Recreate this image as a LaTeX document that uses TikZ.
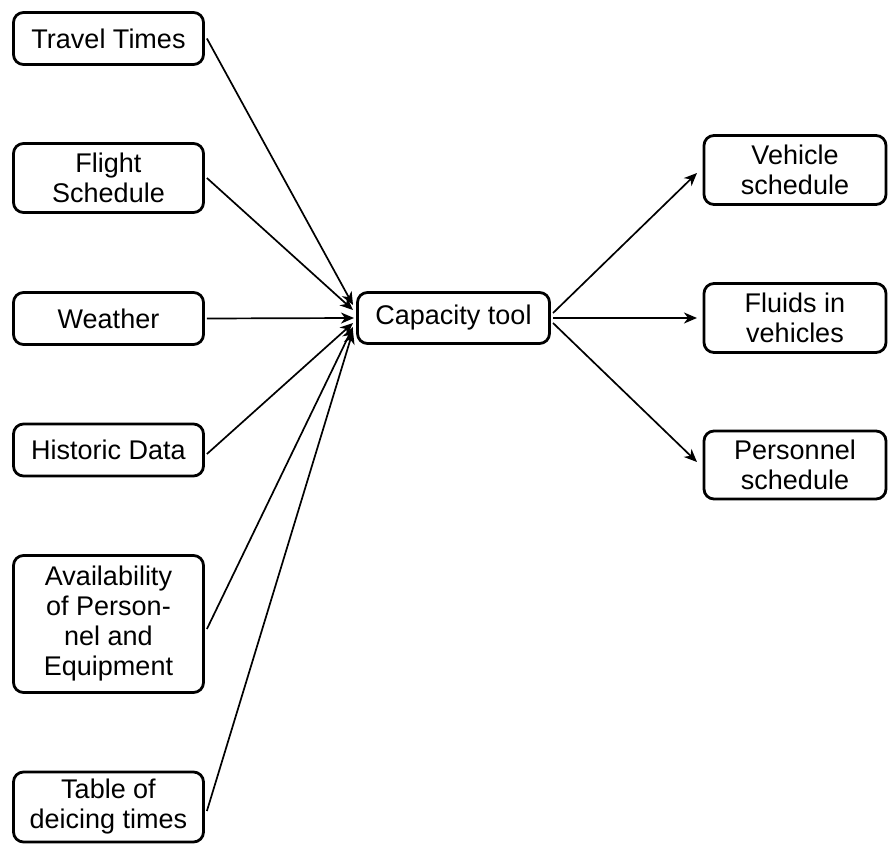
\documentclass[tikz,border=0pt]{standalone}
\usepackage{fontspec}
\setmainfont{Liberation Sans}
\usetikzlibrary{arrows.meta}
\begin{document}
\begin{tikzpicture}[x=1pt,y=-1pt,
  box/.style={draw, line width=2.8pt, rounded corners=10pt, align=center, inner sep=0pt,
    font=\fontsize{27}{30}\selectfont},
  lbox/.style={box, minimum width=190pt},
  rbox/.style={box, minimum width=182pt},
  arr/.style={line width=1.7pt, -{Stealth[length=13pt,width=11pt,inset=4pt]}}
]
\useasboundingbox (0,0) rectangle (889,845);
\node[lbox, minimum height=52pt] (tt) at (108.5,38.5) {Travel Times};
\node[lbox, minimum height=69pt] (fs) at (108.5,178) {Flight\\Schedule};
\node[lbox, minimum height=52pt] (we) at (108.5,318.5) {Weather};
\node[lbox, minimum height=52pt] (hd) at (108.5,450) {Historic Data};
\node[lbox, minimum height=137pt] (av) at (108.5,624) {Availability\\of Person-\\nel and\\Equipment};
\node[lbox, minimum height=70pt] (tb) at (108.5,807) {Table of\\deicing times};
\node[box, minimum width=192pt, minimum height=51pt] (cap) at (453.5,318) {Capacity tool};
\node[rbox, minimum height=69pt] (vs) at (795,170) {Vehicle\\schedule};
\node[rbox, minimum height=69pt] (fl) at (795,318) {Fluids in\\vehicles};
\node[rbox, minimum height=68pt] (ps) at (795,465) {Personnel\\schedule};
\coordinate (i1) at (353,305);
\coordinate (i2) at (353,310);
\coordinate (i3) at (354,318);
\coordinate (i4) at (353,323);
\coordinate (i5) at (353,327);
\coordinate (i6) at (353,331);
\coordinate (o1) at (553,313);
\coordinate (o2) at (553,318);
\coordinate (o3) at (553,323);
\coordinate (t1) at (697,173);
\coordinate (t2) at (697,318);
\coordinate (t3) at (697,462);
\draw[arr] ([xshift=2pt]tt.east) -- (i1);
\draw[arr] ([xshift=2pt]fs.east) -- (i2);
\draw[arr] ([xshift=2pt]we.east) -- (i3);
\draw[arr] ([xshift=2pt,yshift=-4pt]hd.east) -- (i4);
\draw[arr] ([xshift=2pt,yshift=-5pt]av.east) -- (i5);
\draw[arr] ([xshift=2pt,yshift=-4pt]tb.east) -- (i6);
\draw[arr] (o1) -- (t1);
\draw[arr] (o2) -- (t2);
\draw[arr] (o3) -- (t3);
\end{tikzpicture}
\end{document}
